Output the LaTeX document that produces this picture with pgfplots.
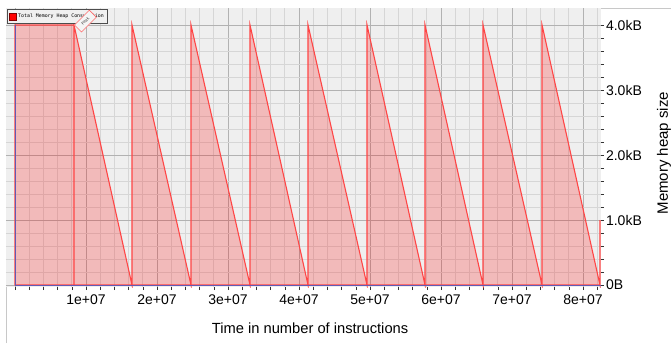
\documentclass[border=0pt]{standalone}
\usepackage{fontspec}
\setmainfont{Liberation Sans}
\setmonofont{DejaVu Sans Mono}
\usepackage{pgfplots}
\pgfplotsset{compat=1.18}
\definecolor{bg}{RGB}{239,239,239}
\definecolor{majgrid}{RGB}{178,178,178}
\definecolor{mingrid}{RGB}{214,214,214}
\definecolor{heapred}{RGB}{255,70,70}
\definecolor{axisblue}{RGB}{100,90,180}
\definecolor{frameg}{RGB}{200,200,200}
\begin{document}
\begin{tikzpicture}[x=1pt,y=1pt]
\useasboundingbox (0,0) rectangle (671,-343);
\draw[frameg, line width=0.8pt] (6,-343) -- (6,-8) -- (671,-8);
\begin{axis}[
  at={(6pt,-287pt)}, anchor=south west,
  scale only axis, width=595pt, height=279pt,
  xmin=-1267600, xmax=82535000,
  ymin=-0.0308, ymax=4.2615,
  axis background/.style={fill=bg},
  axis line style={draw=none},
  xtick={0,1e7,2e7,3e7,4e7,5e7,6e7,7e7,8e7},
  xticklabels={,1e+07,2e+07,3e+07,4e+07,5e+07,6e+07,7e+07,8e+07},
  minor xtick={2e6,4e6,6e6,8e6,12e6,14e6,16e6,18e6,22e6,24e6,26e6,28e6,32e6,34e6,36e6,38e6,42e6,44e6,46e6,48e6,52e6,54e6,56e6,58e6,62e6,64e6,66e6,68e6,72e6,74e6,76e6,78e6,82e6},
  ytick={0,1,2,3,4},
  yticklabels={0B,1.0kB,2.0kB,3.0kB,4.0kB},
  minor ytick={0.2,0.4,0.6,0.8,1.2,1.4,1.6,1.8,2.2,2.4,2.6,2.8,3.2,3.4,3.6,3.8},
  xtick pos=left, ytick pos=right, yticklabel pos=right,
  scaled x ticks=false,
  grid=both,
  major grid style={draw=majgrid, line width=0.9pt},
  minor grid style={draw=mingrid, line width=0.8pt},
  tick align=outside,
  major tick length=3pt, minor tick length=3pt,
  tick style={draw=gray!40!black, line width=0.6pt},
  tick label style={font=\fontsize{14}{16}\selectfont, text=black},
  yticklabel style={xshift=-1.5pt},
  xticklabel style={yshift=-1pt},
  xlabel={Time in number of instructions},
  ylabel={Memory heap size},
  every axis x label/.style={at={(axis description cs:0.511,0)}, anchor=center, yshift=-41pt, font=\fontsize{14.7}{17}\selectfont},
  every axis y label/.style={at={(axis description cs:1.106,0.480)}, anchor=center, rotate=90, font=\fontsize{15}{17}\selectfont},
  legend style={at={(0,1)}, anchor=north west, xshift=1pt, yshift=-1pt,
    draw=gray!60!black, fill=gray!12, line width=0.7pt,
    font=\ttfamily\fontsize{4.9}{5.5}\selectfont, inner xsep=1.5pt, inner ysep=2.6pt},
  legend cell align=left,
]
\addlegendimage{legend image code/.code={\draw[fill=red, draw=red!50!black, line width=0.4pt] (0pt,-3.8pt) rectangle (7pt,3.8pt);}}
\addlegendentry{Total Memory Heap Consumption}
\addplot[heapred, line width=1.1pt, fill=red, fill opacity=0.22, forget plot] coordinates {
(0,0) (0,4) (8310000,4) (8310000,0) (8310000,4)
(16480000,0) (16480000,4)
(24790000,0) (24790000,4)
(33100000,0) (33100000,4)
(41270000,0) (41270000,4)
(49580000,0) (49580000,4)
(57750000,0) (57750000,4)
(65920000,0) (65920000,4)
(74230000,0) (74230000,4)
(82390000,0) (82390000,1.0)
} \closedcycle;
\addplot[axisblue, line width=0.9pt, forget plot] coordinates {(0,0) (82535000,0)};
\addplot[axisblue, line width=0.9pt, forget plot] coordinates {(0,0) (0,4)};
\addplot[draw=none, forget plot] coordinates {(8310000,4)} coordinate[pos=0] (peak);
\end{axis}
\node[rotate=45, anchor=north west, draw=heapred!80, fill=gray!8, line width=0.6pt,
      minimum width=21pt, minimum height=10pt, inner sep=0.5pt,
      font=\ttfamily\fontsize{4}{4}\selectfont, text=gray!50!black] at (peak) {Peak};
\end{tikzpicture}
\end{document}
